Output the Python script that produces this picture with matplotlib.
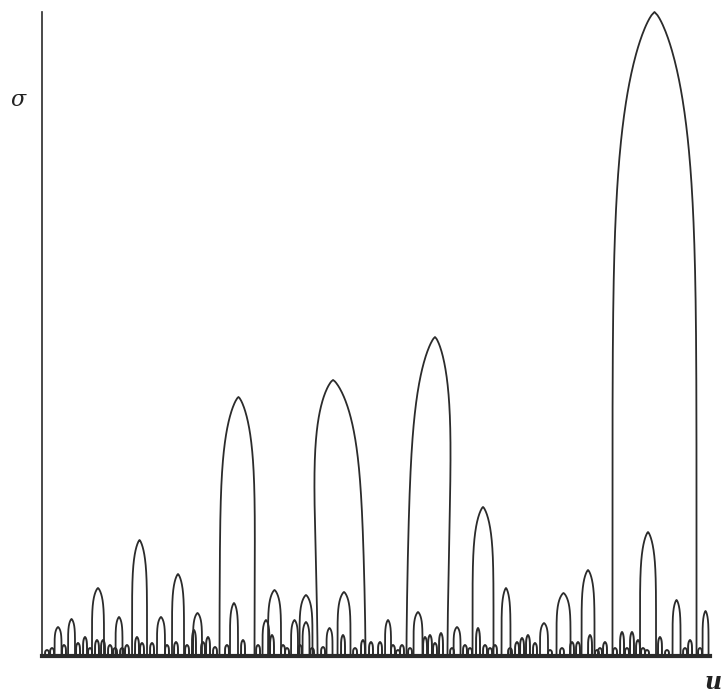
import matplotlib

matplotlib.use("Agg")

import matplotlib.pyplot as plt
import numpy as np

# Main arches: centre on u, half-width, peak height of sigma, apex shift
arch_centers = [2.40, 4.42, 8.38, 11.53, 14.60, 17.81, 20.36, 23.28,
                29.19, 28.74, 33.53, 34.81, 37.80, 39.52, 39.52, 44.84,
                43.04, 45.21, 51.80, 57.63, 56.29, 62.13, 66.02, 69.46,
                75.15, 78.07, 81.74, 91.69, 90.72, 94.99, 99.33]
arch_widths = [0.52, 0.52, 0.90, 0.52, 1.12, 0.60, 0.90, 0.67,
               2.62, 0.60, 0.52, 0.97, 0.52, 0.97, 0.52, 3.59,
               0.45, 0.97, 0.45, 3.07, 0.67, 0.52, 1.57, 0.67,
               0.60, 1.05, 0.97, 6.29, 1.20, 0.60, 0.45]
arch_heights = [4.50, 5.75, 10.56, 6.06, 18.01, 6.06, 12.73, 6.68,
                40.22, 8.23, 5.59, 10.25, 5.59, 9.47, 5.28, 42.86,
                4.35, 9.94, 5.59, 49.53, 6.83, 4.50, 23.14, 10.56,
                5.12, 9.78, 13.35, 100.0, 19.25, 8.70, 6.99]
arch_shifts = [0.0] * len(arch_centers)
arch_shifts[8] = 0.22
arch_shifts[15] = -1.27
arch_shifts[19] = 1.20

# Small bumps along the base line
grass_u = [0.75, 1.50, 3.29, 5.39, 6.44, 7.19, 8.23, 9.13, 10.18, 10.93,
           11.98, 12.72, 14.22, 14.97, 16.47, 18.71, 20.06, 21.71, 22.75,
           24.10, 24.85, 25.90, 27.69, 30.09, 32.34, 34.43, 36.08, 36.68,
           38.62, 40.42, 42.07, 45.06, 46.86, 48.05, 49.25, 50.60, 52.54,
           53.29, 53.89, 55.09, 57.34, 58.08, 58.83, 59.73, 61.38, 63.32,
           64.07, 65.27, 66.32, 67.07, 67.81, 70.06, 71.11, 71.86, 72.75,
           73.80, 76.05, 77.84, 79.34, 80.24, 82.04, 83.08, 83.53, 84.28,
           85.78, 86.83, 87.57, 88.32, 89.22, 89.97, 90.57, 92.51, 93.56,
           96.26, 97.01, 98.50]
grass_sigma = [0.93, 1.24, 1.71, 2.02, 2.95, 1.24, 2.48, 2.48, 1.71, 1.24,
               1.24, 1.71, 2.95, 2.02, 2.02, 1.71, 2.17, 1.71, 4.04,
               2.17, 2.95, 1.40, 1.71, 2.48, 1.71, 3.26, 1.71, 1.24,
               1.71, 1.24, 1.40, 3.26, 1.24, 2.48, 2.17, 2.17, 1.71,
               0.93, 1.71, 1.24, 2.95, 3.26, 2.02, 3.57, 1.24, 1.71,
               1.24, 4.35, 1.71, 1.24, 1.71, 1.24, 2.17, 2.80, 3.26,
               2.02, 0.93, 1.24, 2.17, 2.17, 3.26, 0.93, 1.24, 2.17,
               1.24, 3.73, 1.24, 3.73, 2.48, 1.24, 0.93, 2.95, 0.93,
               1.24, 2.48, 1.24]
grass_width = 0.3

LINE_COLOR = "#2b2b2b"


def arch_outline(center, half_width, height, shift=0.0, n=200):
    s = np.linspace(0.0, 1.0, n)
    hw = half_width * np.clip(1.0 - s**6, 0.0, None) ** 0.75
    mid = center + shift * s**1.5
    x = np.concatenate([mid - hw, (mid + hw)[::-1]])
    y = np.concatenate([s * height, (s * height)[::-1]])
    return x, y


fig = plt.figure(figsize=(7.21, 6.98), dpi=100)
ax = fig.add_axes([42 / 721, 42 / 698, 668 / 721, 644 / 698])

for c, w, h, sh in zip(arch_centers, arch_widths, arch_heights, arch_shifts):
    x, y = arch_outline(c, w, h, sh)
    ax.plot(x, y, color=LINE_COLOR, linewidth=1.3, clip_on=False)

for c, h in zip(grass_u, grass_sigma):
    x, y = arch_outline(c, grass_width, h)
    ax.plot(x, y, color=LINE_COLOR, linewidth=1.4, clip_on=False)

ax.set_xlim(0, 100)
ax.set_ylim(0, 100)
for side in ("top", "right"):
    ax.spines[side].set_visible(False)
ax.spines["left"].set_linewidth(1.2)
ax.spines["bottom"].set_linewidth(3.0)
ax.spines["left"].set_color(LINE_COLOR)
ax.spines["bottom"].set_color(LINE_COLOR)
ax.set_xticks([])
ax.set_yticks([])

fig.text(18 / 721, 1 - 100 / 698, "σ", fontsize=16, style="italic",
         family="DejaVu Serif", ha="center", va="center", color="#222222")
fig.text(704 / 721, 1 - 682 / 698, "u", fontsize=17, style="italic",
         fontweight="bold", family="DejaVu Serif", ha="left", va="center",
         color="#222222")

fig.savefig("out.png", dpi=100, facecolor="white")
